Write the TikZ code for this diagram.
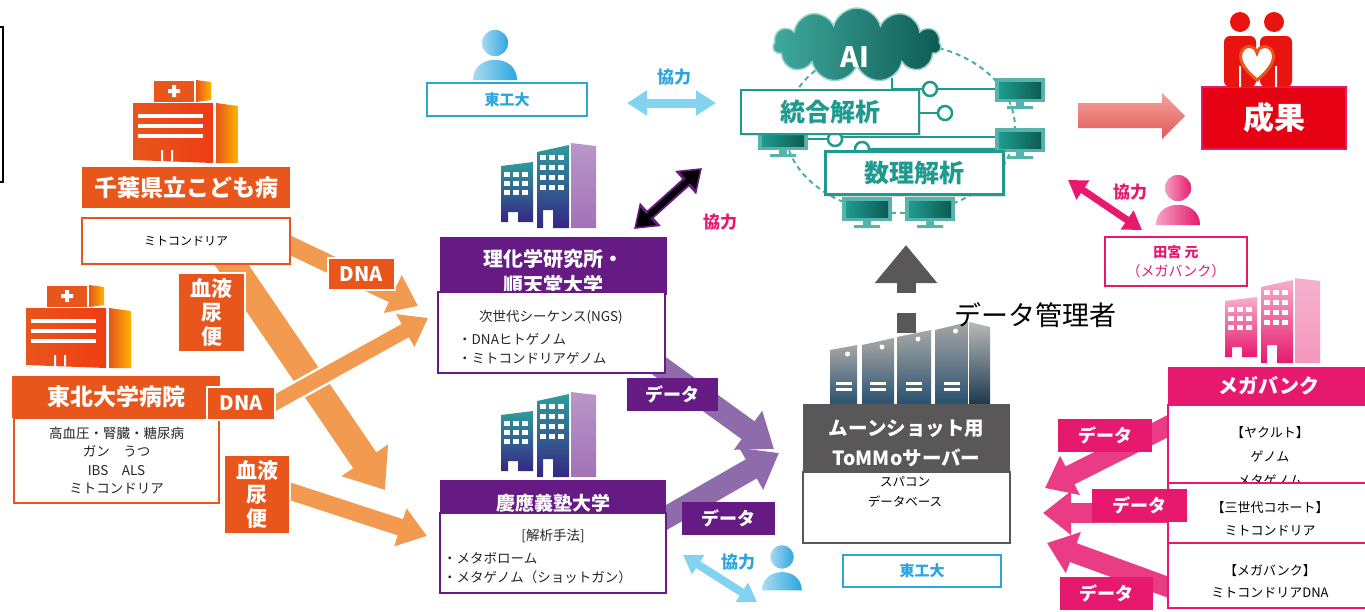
\documentclass[tikz,border=0pt]{standalone}
\usepackage{fontspec}
\setmainfont{Noto Sans CJK JP}
\usepackage{tikz}
\usetikzlibrary{arrows.meta,positioning,shapes.symbols,shadows}
\usepackage{xcolor}

\definecolor{hosp}{HTML}{E8561C}
\definecolor{hospflow}{HTML}{F29A50}
\definecolor{inst}{HTML}{661A83}
\definecolor{instflow}{HTML}{8E6CAC}
\definecolor{bldteal}{HTML}{2E9C9C}
\definecolor{bldpurple}{HTML}{74208E}
\definecolor{bldnavy}{HTML}{352684}
\definecolor{bldside}{HTML}{A273B6}
\definecolor{tit}{HTML}{2AA5DE}
\definecolor{coop}{HTML}{82D3EF}
\definecolor{aiteal}{HTML}{1E9B8E}
\definecolor{aidark}{HTML}{0D5B53}
\definecolor{mega}{HTML}{E6196E}
\definecolor{seika}{HTML}{E50012}
\definecolor{seikaTop}{HTML}{F6A39D}
\definecolor{seikaBot}{HTML}{DE5A55}
\definecolor{srv}{HTML}{595757}
\definecolor{srvblue}{HTML}{27506E}
\newcommand{\fsz}[2]{\fontsize{#1}{#2}\selectfont}

% icons
\tikzset{
  pics/person/.style={code={
    \shade[left color=#1!40, right color=#1] (-22,37) .. controls (-22,10) and (22,10) .. (22,37) -- cycle;
    \shadedraw[left color=#1!40, right color=#1, draw=white, line width=1.5pt] (0,0) circle (14);
  }},
  pics/hospital/.style={code={
    \fill[hosp] (21,1) rectangle (61,22);
    \shade[left color=hosp, right color=orange!60!yellow] (63,0) -- (78,2) -- (78,20) -- (63,22) -- cycle;
    \fill[white] (39,5) rectangle (43,17) (35,9) rectangle (47,13);
    \shade[left color=hosp, right color=hosp!70!red] (0,23) -- (80,23) -- (80,83) -- (0,80) -- cycle;
    \shade[left color=hosp, right color=orange!60!yellow] (83,23) -- (105,26) -- (105,83) -- (83,83) -- cycle;
    \foreach \s in {34,44,54} \fill[white] (5,\s) rectangle (70,\s+4);
    \fill[white] (28,70) rectangle (30,81) (38,70) rectangle (40,81);
  }},
  pics/building/.style n args={4}{code={
    \shade[top color=#1, middle color=#2, bottom color=#3] (1,23) -- (33,19) -- (33,79) -- (18,79) -- (18,69) -- (8,69) -- (8,79) -- (1,79) -- cycle;
    \shade[top color=#1, middle color=#2, bottom color=#3] (37,9) -- (69,2) -- (69,85) -- (53,85) -- (53,67) -- (43,67) -- (43,85) -- (37,85) -- cycle;
    \shade[top color=white!25!#4, bottom color=#4] (71,0) -- (96,3) -- (96,85) -- (71,85) -- cycle;
    \foreach \r in {0,1,2} \foreach \c in {0,1,2}
      \fill[white] (4+\c*9,29+\r*9) rectangle ++(6,5);
    \foreach \r in {0,1,2,3} \foreach \c in {0,1,2}
      \fill[white] (40+\c*9,12+\r*10) rectangle ++(6,5);
  }},
  pics/servers/.style={code={
    \foreach \a/\b/\ta/\tb in {0/27/28/23, 32/64/23/16, 67/101/15/8, 105/138/8/0}{
      \shade[top color=gray!70, bottom color=srvblue] (\a,\ta) -- (\b,\tb) -- (\b,83) -- (\a,83) -- cycle;
      \fill[white] ({(\a+\b)/2+4},{\tb+9}) circle (2.5);
      \fill[white] ({(\a+\b)/2-8},60) rectangle ++(16,2.5);
      \fill[white] ({(\a+\b)/2-8},66) rectangle ++(16,2.5);
    }
    \shade[top color=gray!55, bottom color=srvblue!70!black] (139,0) -- (160,5) -- (160,83) -- (139,83) -- cycle;
  }},
  pics/monitor/.style={code={
    \fill[aiteal!75] (0,0) rectangle (50,24);
    \shade[left color=aiteal, right color=aidark] (4,4) rectangle (46,20);
    \fill[aiteal!75] (21,24) rectangle (29,28) (12,28) rectangle (38,31);
  }},
}

\begin{document}
\begin{tikzpicture}[x=1pt,y=-1pt,
  hosphead/.style={fill=hosp,text=white,font=\bfseries\fsz{23}{27},inner sep=0pt},
  hospbody/.style={draw=hosp,line width=2pt,fill=white,inner sep=0pt},
  sample/.style={fill=hosp,draw=white,line width=1.5pt,text=white,font=\bfseries\fsz{21}{24},align=center,inner sep=0pt},
  insthead/.style={fill=inst,inner sep=0pt},
  instname/.style={text=white,font=\bfseries\fsz{20}{26},align=center},
  instbody/.style={draw=inst,line width=2pt,fill=white,inner sep=0pt},
  datatag/.style={fill=#1,text=white,font=\bfseries\fsz{18}{20},minimum height=33pt,inner sep=0pt},
  coopword/.style={text=#1,font=\bfseries\fsz{17}{20}},
  namebox/.style={draw=#1,line width=1.5pt,fill=white,text=#1,inner sep=0pt,align=center},
  note/.style={font=\fsz{13.5}{18.3},text=black!85,inner sep=0pt},
  aibox/.style={draw=aiteal,line width=2.5pt,fill=white,text=aiteal,font=\bfseries\fsz{25}{28},inner sep=0pt,
    drop shadow={opacity=.25,shadow xshift=2pt,shadow yshift=-2pt}},
  flow/.style n args={4}{draw=#1,line width=#2,-{Triangle[width=#3,length=#4]}},
  coopflow/.style n args={4}{draw=#1,line width=#2,{Triangle[width=#3,length=#4]}-{Triangle[width=#3,length=#4]}},
]
\useasboundingbox (0,0) rectangle (1365,611);

% frame edge at the far left
\draw[line width=1.2pt] (-5,27) -- (3,27) -- (3,182) -- (-5,182);

% sample flows from the hospitals
\coordinate (chibaOutA) at (262,232);
\coordinate (chibaOutB) at (212,236);
\coordinate (tohokuOutA) at (262,410);
\coordinate (tohokuOutB) at (280,488);
\coordinate (rikenInA) at (418,306);
\coordinate (rikenInB) at (428,318);
\coordinate (keioInA) at (385,490);
\coordinate (keioInB) at (427,536);
\draw[flow={hospflow}{18pt}{40pt}{28pt}] (chibaOutA) -- (rikenInA);
\draw[flow={hospflow}{28pt}{54pt}{36pt}] (chibaOutB) -- (keioInA);
\draw[white,line width=20pt,shorten >=30pt] (tohokuOutA) -- (rikenInB);
\draw[flow={hospflow}{15pt}{36pt}{26pt}] (tohokuOutA) -- (rikenInB);
\draw[flow={hospflow}{17pt}{38pt}{28pt}] (tohokuOutB) -- (keioInB);

% data flows into the server
\coordinate (rikenOut) at (640,352);
\coordinate (keioOut) at (648,528);
\coordinate (tommoInA) at (774,449);
\coordinate (tommoInB) at (779,453);
\draw[flow={instflow}{22pt}{46pt}{32pt}] (rikenOut) -- (tommoInA);
\draw[flow={instflow}{22pt}{46pt}{32pt}] (keioOut) -- (tommoInB);
\coordinate (yakultOut) at (1178,421);
\coordinate (cohortOut) at (1172,513);
\coordinate (mbOut) at (1176,590);
\coordinate (tommoInC) at (1045,488);
\coordinate (tommoInD) at (1043,513);
\coordinate (tommoInE) at (1047,543);
\draw[flow={mega!85}{20pt}{42pt}{28pt}] (yakultOut) -- (tommoInC);
\draw[flow={mega!85}{20pt}{42pt}{28pt}] (cohortOut) -- (tommoInD);
\draw[flow={mega!85}{20pt}{42pt}{28pt}] (mbOut) -- (tommoInE);

% server up to the analysis
\coordinate (tommoTop) at (906,333);
\coordinate (aiBottom) at (906,245);
\draw[flow={srv}{19pt}{60pt}{38pt}] (tommoTop) -- (aiBottom);
\fill[white] (890,293) rectangle (925,313);

% Chiba
\pic at (133,80) {hospital};
\node[hospbody, minimum width=208pt, minimum height=46pt, font=\fsz{12}{14}] (chibaBody) at (186,241) {ミトコンドリア};
\node[hosphead, minimum width=208pt, minimum height=41pt] (chibaHead) at (186,187.5) {千葉県立こども病};
\node[sample, minimum width=67pt, minimum height=79pt] (chibaSample) at (211.5,312.5) {血液\\尿\\便};
\node[sample, font=\bfseries\fsz{20}{22}, minimum width=67pt, minimum height=32pt] (chibaDNA) at (361.5,274) {DNA};

% Tohoku
\pic at (26,285) {hospital};
\node[hospbody, note, align=center, minimum width=205pt, minimum height=85pt] (tohokuBody) at (116.5,460.5)
  {高血圧・腎臓・糖尿病\\ガン　うつ\\IBS　ALS\\ミトコンドリア};
\node[hosphead, minimum width=208pt, minimum height=42pt] (tohokuHead) at (116,397) {東北大学病院};
\node[sample, font=\bfseries\fsz{20}{22}, minimum width=68pt, minimum height=33pt] (tohokuDNA) at (241,403.5) {DNA};
\node[sample, minimum width=66pt, minimum height=79pt] (tohokuSample) at (257,494.5) {血液\\尿\\便};

% RIKEN / Juntendo
\pic at (500,143) {building={bldteal}{bldpurple}{bldnavy}{bldside}};
\node[insthead, minimum width=227pt, minimum height=58pt] (rikenHead) at (553,266) {};
\node[instname] (rikenName) at (553,272) {理化学研究所・\\順天堂大学};
\node[instbody, minimum width=227pt, minimum height=81pt] (rikenBody) at (551.5,332.5) {};
\node[note] (rikenNGS) at (551,317) {次世代シーケンス(NGS)};
\node[note, anchor=west] (rikenGenome) at (458,339) {・DNAヒトゲノム};
\node[note, anchor=west] (rikenMito) at (458,358) {・ミトコンドリアゲノム};

% Keio
\pic at (500,392) {building={bldteal}{bldpurple}{bldnavy}{bldside}};
\node[insthead, minimum width=226pt, minimum height=34pt] (keioHead) at (553,497) {};
\node[instname, font=\bfseries\fsz{19}{22}] (keioName) at (553,503) {慶應義塾大学};
\node[instbody, minimum width=226pt, minimum height=80pt] (keioBody) at (553,553) {};
\node[note] (keioMethod) at (553,536) {[解析手法]};
\node[note, anchor=west] (keioMetabo) at (443,558) {・メタボローム};
\node[note, anchor=west] (keioMetagenome) at (443,577) {・メタゲノム（ショットガン）};

% data tags
\node[datatag=inst, minimum width=91pt] (rikenData) at (672.5,394.5) {データ};
\node[datatag=inst, minimum width=93pt] (keioData) at (728.5,518.5) {データ};

% Tokyo Tech, top
\pic at (495,43) {person=tit};
\node[namebox=tit, minimum width=160pt, minimum height=33pt, font=\bfseries\fsz{15}{18}] (titTop) at (507,99.5) {東工大};
\node[coopword=tit] (coopTop) at (674,77) {協力};
\coordinate (coopTopL) at (627,103);
\coordinate (coopTopR) at (716,103);
\draw[coopflow={coop}{9pt}{24pt}{20pt}] (coopTopL) -- (coopTopR);

% RIKEN <-> analysis
\coordinate (rikenLink) at (634,229);
\coordinate (aiLink) at (702,168);
\draw[coopflow={inst}{10pt}{30pt}{22pt}] (rikenLink) -- (aiLink);
\draw[coopflow={black}{6pt}{22pt}{16pt}, shorten <=3pt, shorten >=3pt] (rikenLink) -- (aiLink);
\node[coopword=mega] (coopAI) at (720,222) {協力};

% Tokyo Tech, bottom
\pic[scale=.9] at (782,557) {person=tit};
\node[coopword=tit] (coopBottom) at (738,562) {協力};
\coordinate (keioLink) at (683,555);
\coordinate (titLink) at (757,602);
\draw[coopflow={coop}{8pt}{22pt}{18pt}] (keioLink) -- (titLink);

% ToMMo server
\pic at (830,322) {servers};
\node[fill=srv, minimum width=207pt, minimum height=68pt, inner sep=0pt] (tommoHead) at (906.5,438) {};
\node[text=white, font=\bfseries\fsz{19.5}{30}, align=center] (tommoName) at (906.5,443) {ムーンショット用\\ToMMoサーバー};
\node[draw=srv, line width=2pt, fill=white, minimum width=207pt, minimum height=71pt, inner sep=0pt] (tommoBody) at (906.5,507.5) {};
\node[font=\fsz{12.5}{20}, align=center] (tommoNote) at (905,492) {スパコン\\データベース};
\node[namebox=tit, minimum width=158pt, minimum height=32pt, font=\bfseries\fsz{15}{18}] (titBottom) at (922,571) {東工大};
\node[font=\fsz{27}{30}] (dataManager) at (1035,315) {データ管理者};

% AI and analysis
\draw[aiteal!80, line width=2pt, dash pattern=on 5pt off 4pt] (900,128) ellipse [x radius=115, y radius=85];
\begin{scope}[aiteal, line width=2.5pt]
  \draw (892,78) |- (923,89);
  \draw (937,89) -- (995,89);
  \draw (918,113) -- (938,113);
  \draw (807,139) -- (828,139);
  \draw (842,137) -- (995,137);
  \draw[rounded corners=6pt] (869,149) -- (1000,149) -- (1000,165);
  \filldraw[fill=white] (930,89) circle (7) (945,113) circle (7) (835,139) circle (7) (862,149) circle (7);
\end{scope}
\foreach \mx/\my in {995/78, 995/128, 758/126, 842/197, 905/197}
  \pic at (\mx,\my) {monitor};
\node[cloud, cloud puffs=11, aspect=2.3, minimum width=168pt, minimum height=74pt, inner sep=0pt,
  left color=aiteal!85, right color=aidark, draw=aiteal!45, line width=1.5pt] (aiCloud) at (857,45) {};
\node[text=white, font=\bfseries\fsz{28}{30}] (aiText) at (855,57) {AI};
\node[aibox, minimum width=178pt, minimum height=44pt] (integrate) at (830,112) {統合解析};
\node[aibox, minimum width=178pt, minimum height=43pt] (mathAna) at (914.5,173) {数理解析};

% outcome
\shade[top color=seikaTop, bottom color=seikaBot] (1078,103) -- (1162,103) -- (1162,93) -- (1185,116)
  -- (1162,139) -- (1162,128) -- (1078,128) -- cycle;
\node[fill=seika, draw=mega, line width=2pt, minimum width=144pt, minimum height=62pt, text=white,
  font=\bfseries\fsz{31}{34}] (result) at (1274,118) {成果};
\fill[seika!85!orange] (1240,22) circle (10) (1274,22) circle (10);
\fill[seika!85!orange, rounded corners=6pt] (1224,36) rectangle (1256,87) (1260,36) rectangle (1292,87);
\fill[white] (1239,66) rectangle (1241,87) (1275,66) rectangle (1277,87);
\filldraw[fill=white, draw=hosp, line width=3pt] (1257,80) .. controls (1242,68) and (1238,58) .. (1242,51)
  .. controls (1246,44) and (1255,45) .. (1257,53) .. controls (1259,45) and (1268,44) .. (1272,51)
  .. controls (1276,58) and (1272,68) .. (1257,80) -- cycle;

% Tamiya (Megabank)
\node[coopword=mega] (coopMega) at (1130,192) {協力};
\coordinate (aiLinkB) at (1068,180);
\coordinate (tamiyaLink) at (1142,230);
\draw[coopflow={mega}{7pt}{22pt}{18pt}] (aiLinkB) -- (tamiyaLink);
\pic at (1178,188) {person=mega};
\node[namebox=mega, minimum width=142pt, minimum height=49pt, font=\fsz{14}{19}] (tamiya) at (1176,261.5)
  {{\bfseries 田宮 元}\\（メガバンク）};

% Megabank
\pic at (1224,278) {building={mega!35}{mega!80}{mega}{mega!45}};
\node[fill=mega, minimum width=202pt, minimum height=38pt, inner sep=0pt, text=white,
  font=\bfseries\fsz{20}{22}] (megaHead) at (1269,386) {メガバンク};
\node[draw=mega, line width=2pt, fill=white, minimum width=202pt, minimum height=78pt, inner sep=0pt] (yakultBox) at (1269,444) {};
\node[font=\fsz{13}{24}, align=center] (yakultText) at (1270,456) {【ヤクルト】\\ゲノム\\メタゲノム};
\node[draw=mega, line width=2pt, fill=white, minimum width=202pt, minimum height=60pt, inner sep=0pt] (cohortBox) at (1269,513) {};
\node[font=\fsz{13}{23}, align=center] (cohortText) at (1270,518.5) {【三世代コホート】\\ミトコンドリア};
\node[draw=mega, line width=2pt, fill=white, minimum width=202pt, minimum height=65pt, inner sep=0pt] (mbBox) at (1269,575.5) {};
\node[font=\fsz{13}{22}, align=center] (mbText) at (1270,581) {【メガバンク】\\ミトコンドリアDNA};
\node[datatag=mega, minimum width=94pt] (yakultData) at (1105,435) {データ};
\node[datatag=mega, minimum width=95pt] (cohortData) at (1139.5,505) {データ};
\node[datatag=mega, minimum width=93pt] (mbData) at (1106.5,593.5) {データ};
\end{tikzpicture}
\end{document}
